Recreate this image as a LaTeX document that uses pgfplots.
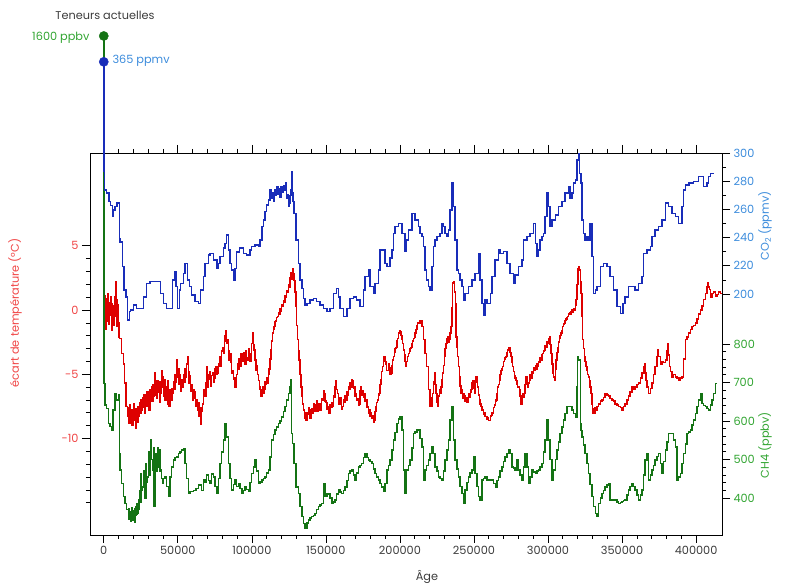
\documentclass[border=0pt]{standalone}
\usepackage{fontspec}
\setmainfont{Poppins}
\usepackage{pgfplots}
\pgfplotsset{compat=1.18}
\definecolor{tline}{RGB}{222,0,0}
\definecolor{tlabel}{RGB}{240,70,70}
\definecolor{cline}{RGB}{25,45,185}
\definecolor{clabel}{RGB}{60,140,220}
\definecolor{mline}{RGB}{20,115,20}
\definecolor{mlabel}{RGB}{50,165,50}
\definecolor{txtgray}{RGB}{60,60,60}
\begin{document}
\begin{tikzpicture}[x=1pt,y=1pt]
\useasboundingbox (-90,-51) rectangle (700,535);
\pgfplotsset{every axis/.append style={width=632pt,height=382pt,scale only axis,
  at={(0,0)},anchor=south west,xmin=-9.3,xmax=417.5,
  tick align=outside,major tick length=8pt,minor tick length=4pt,
  axis line style={line width=0.9pt,black},
  every tick/.style={black,line width=0.7pt},
  tick label style={font=\fontsize{11.3}{13}\selectfont}}}
% temperature
\begin{axis}[ymin=-17.51,ymax=12.22,
  xtick={0,50,100,150,200,250,300,350,400},
  xticklabels={0,50000,100000,150000,200000,250000,300000,350000,400000},
  minor x tick num=4, xtick pos=both, ytick pos=left,
  ytick={-10,-5,0,5}, yticklabels={-10,-5,0,5},
  minor ytick={-15,-14,-13,-12,-11,-9,-8,-7,-6,-4,-3,-2,-1,1,2,3,4},
  yticklabel style={color=tlabel}, xticklabel style={color=txtgray}]
\addplot[const plot mark right,color=tline,line width=1.5pt] coordinates {
(0,0.3)(0.4,-1.2)(0.8,1.1)(1.2,-0.6)(1.6,0.9)(2.0,-1.5)(2.4,0.4)(2.8,1.3)(3.2,-0.9)(3.6,0.6)(4.0,-1.1)(4.4,0.2)(4.8,1.0)(5.2,-0.4)(5.6,-1.6)(6.0,0.5)(6.4,-0.8)(6.8,0.3)(7.2,-1.2)(7.6,0.1)(8.0,1.0)(8.3,2.2)(8.6,-0.5)(9.0,0.8)(9.4,-1.3)(9.8,0.4)(10.2,-1.0)(10.6,-2.1)(12.1,-2.2)(13.2,-3.4)(13.9,-4.2)(15.0,-5.7)(15.9,-7.5)(16.6,-8.3)
(17.2,-7.6)(17.7,-8.8)(18.2,-7.4)(18.7,-8.5)(19.2,-7.8)(19.7,-9.0)(20.2,-8.1)(20.7,-7.3)(21.2,-8.6)(21.7,-7.7)(22.2,-9.2)(22.7,-8.0)(23.2,-8.7)(23.7,-7.5)(24.2,-8.3)(24.7,-7.2)(25.2,-8.0)(25.7,-7.0)(26.2,-7.8)(26.7,-6.8)
(27.2,-7.6)(27.7,-6.6)(28.2,-8.0)(28.7,-6.9)(29.2,-7.5)(29.7,-6.4)(30.2,-7.3)(30.7,-6.7)(31.2,-7.8)(31.7,-6.2)(32.2,-7.0)(32.7,-6.0)(33.2,-7.1)(33.7,-5.8)(34.2,-6.7)(34.6,-4.9)(35.0,-6.6)(35.5,-5.6)
(36.0,-6.9)(36.5,-5.5)(37.0,-6.4)(37.5,-5.8)(38.0,-7.2)(38.5,-5.6)(39.0,-6.5)(39.5,-4.7)(40.0,-6.0)(40.5,-5.2)(41.0,-6.7)(41.5,-5.4)(42.0,-7.0)(42.5,-6.0)(43.0,-6.8)(43.5,-5.5)(44.0,-7.3)(44.7,-7.5)(45.5,-6.2)(46.0,-7.0)(46.5,-6.1)(47.0,-6.5)(47.5,-5.6)(48.0,-6.2)(48.5,-5.0)(49.0,-5.6)(49.7,-3.9)(50.2,-5.2)(50.7,-4.6)(51.2,-5.8)(51.7,-5.0)(52.5,-6.3)(53.1,-5.4)(53.7,-6.0)(54.3,-5.0)(55.0,-5.6)(55.5,-4.6)(56.0,-5.2)(56.5,-4.2)(57.1,-3.6)(57.6,-4.8)(58.2,-5.7)(58.7,-5.1)(59.3,-6.3)(59.9,-5.8)(60.5,-7.0)(61.0,-6.2)(61.5,-6.9)(62.1,-6.4)(62.7,-7.5)(63.2,-7.0)(63.8,-7.8)(64.4,-7.2)(65.0,-8.3)(65.5,-7.6)(66.1,-8.9)(66.7,-7.9)(67.3,-7.3)(67.8,-6.6)(68.4,-6.2)(68.9,-6.7)(69.5,-5.7)(70.0,-4.4)(70.4,-5.5)(70.8,-6.0)(71.2,-5.0)(71.7,-5.4)(72.2,-4.8)(72.8,-5.9)(73.4,-5.1)(74.0,-4.9)(74.6,-5.6)(75.2,-5.3)(75.7,-4.6)(76.3,-4.4)(76.9,-5.0)(77.4,-4.9)(78.0,-4.2)(78.5,-3.6)(79.0,-4.4)(79.6,-3.9)(80.2,-3.2)(80.8,-2.9)(81.4,-3.4)(82.0,-2.4)(82.5,-2.0)(83.0,-1.6)(83.5,-2.6)(84.1,-2.3)(84.7,-3.2)(85.3,-3.9)(85.8,-3.4)(86.4,-4.1)(86.9,-4.9)(87.5,-4.7)(88.0,-5.4)(88.6,-5.3)(89.2,-6.0)(89.8,-6.0)(90.3,-5.0)(90.9,-4.2)(91.4,-4.6)(92.0,-3.8)(92.6,-4.4)(93.2,-3.4)(93.7,-3.9)(94.3,-4.0)(94.9,-3.3)(95.4,-3.6)(96.0,-4.2)(96.5,-3.2)(97.1,-3.7)(97.7,-3.9)(98.2,-3.0)(98.8,-3.4)(99.4,-4.0)(99.9,-3.4)(100.5,-2.6)(101.0,-1.8)(101.6,-2.7)(102.2,-3.1)(102.7,-3.9)(103.3,-4.7)(103.8,-4.3)(104.4,-5.0)(105.0,-5.5)(105.5,-6.0)(106.1,-6.2)(106.7,-6.7)(107.2,-6.3)(107.8,-6.0)(108.3,-6.5)(108.9,-6.2)(109.5,-5.6)(110.0,-5.8)(110.6,-5.3)(111.2,-5.7)(111.7,-5.0)(112.3,-4.6)(112.9,-3.8)(113.4,-3.1)(114.0,-2.4)(114.5,-1.8)(115.1,-1.5)(115.6,-1.3)(116.2,-0.9)(116.8,-0.8)(117.3,-0.6)(117.9,-0.5)(118.5,-0.2)(119.0,-0.3)(119.6,0.1)(120.1,-0.1)(120.7,0.4)(121.3,0.3)(121.8,0.7)(122.4,0.6)(123.0,1.1)(123.5,1.0)(124.1,1.5)(124.7,1.4)(125.2,2.0)(125.8,1.8)(126.4,2.5)(126.9,2.9)(127.5,2.4)(128.1,3.2)(128.6,2.8)(129.2,2.3)(129.7,1.4)(130.3,0.3)(130.9,-1.2)(131.4,-2.3)(132.0,-3.2)(132.6,-3.9)(133.1,-5.0)(133.7,-6.0)(134.3,-6.7)(134.8,-7.3)(135.4,-7.8)(135.9,-8.0)(136.5,-8.4)(137.1,-8.6)(137.6,-8.0)(138.2,-8.1)(138.8,-7.6)(139.3,-7.8)(139.9,-8.4)(140.4,-8.3)(141.0,-7.7)(141.6,-8.0)(142.1,-7.3)(142.7,-7.4)(143.2,-7.9)(143.8,-7.5)(144.4,-7.1)(145.0,-7.9)(145.5,-7.3)(146.1,-7.3)(146.6,-7.8)(147.2,-7.6)(147.8,-6.9)(148.3,-7.0)(148.9,-6.3)(149.5,-6.5)(150.0,-7.1)(150.6,-7.2)(151.1,-7.7)(151.7,-7.5)(152.3,-8.0)(152.8,-8.0)(153.4,-7.4)(154.0,-7.6)(154.5,-7.2)(155.1,-7.5)(155.6,-6.7)(156.2,-6.8)(156.8,-6.0)(157.3,-5.5)(157.9,-6.2)(158.5,-6.5)(159.0,-7.0)(159.6,-7.3)(160.1,-6.8)(160.7,-7.0)(161.3,-7.7)(161.8,-7.5)(162.4,-7.0)(163.0,-7.2)(163.5,-6.7)(164.1,-7.0)(164.6,-6.4)(165.2,-6.6)(165.8,-6.0)(166.3,-6.2)(166.9,-5.7)(167.5,-6.0)(168.0,-5.4)(168.6,-5.5)(169.1,-6.1)(169.7,-6.0)(170.3,-6.7)(170.8,-6.5)(171.4,-7.0)(172.0,-6.9)(172.5,-7.4)(173.1,-7.3)(173.6,-6.3)(174.2,-6.0)(174.8,-6.6)(175.3,-6.3)(175.9,-6.8)(176.5,-6.5)(177.0,-7.1)(177.6,-7.0)(178.2,-7.6)(178.7,-7.5)(179.3,-8.0)(179.8,-7.8)(180.4,-8.3)(180.9,-8.0)(181.5,-8.4)(182.0,-8.2)(182.6,-8.7)(183.2,-8.6)(183.7,-7.9)(184.3,-7.5)(184.9,-7.2)(185.4,-7.0)(186.0,-6.6)(186.6,-6.5)(187.1,-5.8)(187.7,-5.4)(188.2,-4.8)(188.8,-4.4)(189.4,-3.9)(189.9,-3.6)(190.5,-4.0)(191.0,-4.2)(191.6,-4.7)(192.2,-4.7)(192.7,-4.2)(193.3,-4.5)(193.9,-5.0)(194.5,-4.9)(195.0,-4.3)(195.6,-3.9)(196.2,-3.6)(196.7,-3.3)(197.3,-3.0)(197.9,-2.9)(198.4,-2.4)(199.0,-2.2)(199.6,-1.8)(200.1,-1.6)(200.7,-1.7)(201.3,-2.0)(201.8,-2.3)(202.4,-2.6)(203.0,-3.1)(203.5,-3.5)(204.1,-4.0)(204.6,-4.4)(205.2,-4.0)(205.8,-3.6)(206.3,-3.4)(206.9,-3.2)(207.5,-3.0)(208.0,-2.9)(208.6,-2.6)(209.1,-2.4)(209.7,-2.2)(210.3,-2.1)(210.8,-1.8)(211.4,-1.5)(212.0,-1.2)(212.5,-1.0)
(213.6,-1.0)(214.8,-0.8)(215.9,-1.3)(217.0,-2.3)(218.1,-3.4)(219.3,-4.4)(220.4,-6.2)(221.5,-7.5)(222.1,-6.8)(222.7,-6.5)(223.2,-5.6)(223.8,-4.9)(224.4,-5.8)(224.9,-6.5)(225.5,-7.2)(226.0,-7.5)(226.6,-6.7)(227.2,-6.2)(227.7,-6.5)(228.3,-6.0)(228.8,-5.4)(229.4,-4.9)(230.0,-4.3)(230.5,-3.6)(231.1,-3.0)(231.7,-2.6)(232.2,-2.2)(232.8,-2.1)(233.3,-2.5)(233.9,-2.3)(234.5,-1.8)(235.0,-1.3)(235.6,0.2)(236.2,2.1)(236.9,2.2)(237.4,1.4)(237.8,0.5)(238.4,-2.1)(239.0,-2.9)(239.5,-3.6)(240.1,-4.4)(240.7,-5.2)(241.2,-5.9)(241.8,-6.5)(242.4,-6.2)(243.0,-6.9)(243.5,-6.5)(244.1,-6.7)(244.7,-7.1)(245.2,-6.8)(245.8,-7.2)(246.3,-7.0)(246.9,-6.5)(247.5,-6.8)(248.0,-6.4)(248.6,-6.2)(249.2,-5.7)(249.7,-5.5)(250.3,-6.1)(250.8,-6.5)(251.4,-5.5)(251.9,-5.2)(252.5,-5.6)(253.1,-6.0)(253.6,-6.6)(254.2,-7.0)(254.8,-7.3)(255.3,-7.5)(255.9,-7.8)(256.4,-7.8)(257.0,-8.1)(257.6,-8.0)(258.1,-8.3)(258.7,-8.3)(259.2,-8.5)(259.8,-8.4)(260.4,-8.6)(261.0,-8.6)(261.5,-8.3)(262.1,-8.2)(262.7,-8.0)(263.2,-8.0)(263.8,-7.6)(264.4,-7.4)(264.9,-7.1)(265.5,-7.0)(266.0,-6.5)(266.6,-6.0)(267.2,-5.8)(267.7,-5.5)(268.3,-5.0)(268.8,-4.7)(269.4,-4.6)(269.9,-4.4)(270.5,-4.0)(271.1,-3.8)(271.6,-3.7)(272.2,-3.6)(272.8,-3.3)(273.3,-3.1)(273.9,-2.9)(274.4,-2.9)(275.0,-3.3)(275.6,-3.6)(276.1,-4.1)(276.7,-4.4)(277.3,-4.8)(277.8,-5.1)(278.4,-5.3)(279.0,-5.5)(279.5,-5.8)(280.1,-6.0)(280.6,-6.0)(281.2,-6.2)(281.8,-6.7)(282.3,-7.3)(282.9,-7.0)(283.5,-6.5)(284.0,-6.8)(284.6,-6.5)(285.1,-5.8)(285.7,-5.2)(286.3,-5.6)(286.9,-6.0)(287.4,-5.7)(288.0,-5.5)(288.6,-5.0)(289.1,-5.3)(289.7,-4.8)(290.2,-4.9)(290.8,-4.5)(291.4,-4.7)(292.0,-4.3)(292.5,-4.6)(293.1,-4.2)(293.6,-4.4)(294.2,-4.0)(294.7,-4.1)(295.3,-3.7)(295.9,-3.9)(296.4,-3.5)(297.0,-3.4)(297.5,-3.2)(298.1,-3.1)(298.7,-2.8)(299.2,-2.9)(299.8,-2.5)(300.4,-2.6)(300.9,-2.2)(301.5,-2.1)(302.0,-2.7)(302.6,-3.4)(303.2,-4.2)(303.8,-4.9)(304.3,-5.2)(304.9,-5.5)(305.4,-4.6)(306.0,-3.9)(306.6,-3.3)(307.1,-2.9)(307.7,-2.5)(308.2,-2.2)(308.8,-2.0)(309.4,-1.8)(309.9,-1.6)(310.5,-1.3)(311.1,-1.1)(311.6,-1.0)(312.2,-0.8)(312.8,-0.7)(313.3,-0.6)(313.9,-0.5)(314.5,-0.3)(315.0,-0.2)(315.6,-0.3)(316.1,-0.1)(316.7,0.0)(317.3,-0.2)(317.8,0.1)(318.4,0.0)(319.0,0.4)(319.5,0.8)(320.1,2.0)(320.6,3.2)(321.2,3.4)(321.8,3.1)(322.3,2.2)(322.9,1.3)(323.4,-0.5)(324.0,-2.3)(324.6,-3.0)(325.1,-3.6)(325.7,-4.0)(326.3,-4.4)(326.8,-4.7)(327.4,-5.0)(327.9,-5.2)(328.5,-5.5)(329.1,-6.0)(329.6,-6.5)(330.2,-7.3)(330.8,-8.0)(331.3,-7.7)(331.9,-8.0)(332.4,-7.6)(333.0,-7.8)(334.1,-7.5)(335.3,-7.3)(336.4,-7.1)(337.5,-7.0)(338.6,-6.8)(339.8,-6.5)(340.9,-6.6)(342.0,-6.7)(343.1,-6.9)(344.3,-7.0)(345.4,-7.1)(346.5,-7.3)(347.7,-7.4)(348.8,-7.5)(349.9,-7.6)(351.0,-7.8)(352.1,-7.5)(353.3,-7.3)(354.4,-7.0)(355.5,-6.7)(356.6,-6.4)(357.7,-6.0)(358.9,-6.2)(360.0,-6.0)(361.1,-5.8)(362.3,-5.7)(363.4,-5.3)(364.5,-4.9)(365.0,-4.4)(365.6,-4.2)(366.2,-4.9)(366.8,-5.5)(367.9,-6.0)(369.1,-6.5)(370.2,-6.1)(371.3,-5.7)(372.4,-5.0)(373.6,-4.4)(374.2,-3.6)(374.7,-3.1)(375.8,-3.6)(376.9,-4.2)(378.0,-4.0)(379.2,-4.1)(380.4,-3.9)(381.0,-3.2)(381.5,-2.6)(382.1,-3.5)(382.6,-4.4)(383.8,-4.8)(384.9,-5.2)(386.0,-5.0)(387.1,-5.2)(388.3,-5.3)(389.4,-5.5)(390.5,-5.3)(391.6,-5.2)(392.7,-3.8)(393.9,-2.3)(395.0,-2.1)(396.1,-1.8)(397.3,-1.5)(398.4,-1.3)(399.5,-1.2)(400.6,-1.0)(401.7,-0.7)(402.9,-0.3)(404.0,0.0)(405.1,0.3)(406.2,0.8)(407.4,1.3)(408.0,1.8)(408.5,2.1)(409.1,1.8)(409.6,1.6)(410.2,1.2)(410.8,1.0)(411.9,1.3)(413.0,1.4)(414.1,1.1)(415.3,1.2)(416.4,1.4)(417.2,1.3)
};
\end{axis}
% CH4
\begin{axis}[ymin=303.9,ymax=1296.1,clip=false,
  axis x line=none, axis y line*=right,
  ytick={400,500,600,700,800}, yticklabels={400,500,600,700,800},
  minor ytick={420,440,460,480,520,540,560,580,620,640,660,680,720,740,760,780},
  yticklabel style={color=mlabel}]
\addplot[const plot mark right,color=mline,line width=1.5pt] coordinates {
(0,1600)(0.8,697.8)(1.9,641.6)(3.1,632.9)(4.2,593.9)(5.3,585.3)(6.4,576.6)(7.6,628.6)(8.7,671.9)(9.8,654.5)(10.5,667.5)(10.9,516)(12.1,472.7)(13.2,438)(14.3,403.5)(15.5,386.1)(16.6,370)(17.0,345)(17.4,372)(17.8,350)(18.2,365)(18.6,340)(19.0,375)(19.4,352)(19.8,368)(20.2,342)(20.6,360)(21.0,338)(21.4,372)(21.8,355)(22.2,378)(22.6,358)(23.0,385)(23.4,360)(23.8,395)(24.2,370)(24.6,420)(25.0,390)(25.6,464)(26.1,420)(26.7,429)(27.2,470)(27.8,447)(28.4,400)(29.0,490)(29.5,440)(30.1,455)(30.6,520)(31.2,507)(31.7,460)(32.3,551)(32.9,500)(33.5,473)(34.0,530)(34.6,378)(35.1,450)(35.7,516)(36.3,470)(36.8,530)(37.4,480)(38.0,525)(38.5,470)(39.1,473)(39.6,450)(40.2,438)(41.3,450)(42.5,455)(43.6,430)(44.7,404)(45.9,455)(47.0,480)(48.1,499)(49.2,505)(50.3,507)(51.5,515)(52.6,520)(53.7,525)(54.9,529)(56.0,490)(57.1,450)(58.2,412)(60.5,417)(62.2,420)(63.9,425)(66.1,434)(67.2,420)(68.4,447)(69.5,440)(70.6,460)(71.7,445)(72.9,438)(74.0,462)(75.1,455)(76.3,430)(77.4,412)(78.5,450)(79.6,490)(80.8,520)(81.9,551)(83.0,594)(84.1,559)(85.3,490)(86.4,450)(87.5,421)(88.6,435)(89.8,447)(90.9,430)(92.0,438)(93.2,425)(94.3,412)(95.4,420)(96.5,430)(97.7,422)(98.8,417)(99.9,440)(101.0,464)(102.2,480)(103.3,499)(104.4,470)(105.5,438)(106.7,442)(107.8,447)(108.9,450)(110.0,455)(111.2,465)(112.3,473)(113.4,507)(114.5,551)(115.6,565)(116.8,577)(117.9,585)(119.0,594)(120.1,600)(121.3,611)(122.4,625)(123.5,637)(124.7,655)(125.8,672)(126.4,690)(126.9,707)(127.6,568)(128.5,542)(129.9,490)(131.4,429)(132.6,412)(133.7,378)(134.8,352)(135.9,334)(137.1,321)(138.2,335)(139.3,343)(140.4,348)(141.6,352)(142.7,355)(143.8,360)(145.0,370)(146.1,378)(147.2,382)(148.3,386)(149.5,438)(150.6,404)(151.7,410)(152.8,412)(154.0,400)(155.1,386)(156.2,390)(157.3,395)(158.5,410)(159.6,421)(160.7,415)(161.8,412)(163.0,420)(164.1,429)(165.2,445)(166.3,464)(167.5,470)(168.6,473)(169.7,460)(170.8,447)(172.0,465)(173.1,481)(174.2,485)(175.3,490)(176.5,505)(177.7,516)(178.8,505)(179.9,499)(181.0,495)(182.1,490)(183.2,475)(184.3,464)(185.5,455)(186.6,447)(187.7,438)(188.8,429)(190.0,417)(191.1,438)(192.2,473)(193.3,485)(194.5,499)(195.6,525)(196.7,551)(197.9,570)(199.0,594)(200.1,605)(201.3,611)(202.4,577)(203.5,473)(204.6,412)(205.8,473)(206.9,485)(208.0,499)(209.1,530)(210.3,568)(211.4,572)(212.5,577)(213.6,577)(214.8,555)(215.9,533)(217.0,447)(218.1,473)(219.3,485)(220.4,499)(221.5,515)(222.7,533)(223.8,516)(224.9,481)(226.0,470)(227.2,455)(228.3,450)(229.4,447)(230.5,470)(231.7,499)(232.8,525)(233.9,551)(235.0,603)(236.2,637)(237.3,551)(238.4,499)(239.5,475)(240.7,455)(241.8,430)(242.9,412)(244.1,386)(245.2,421)(246.3,440)(247.4,455)(248.6,465)(249.7,473)(250.8,507)(251.9,464)(253.1,430)(254.2,404)(255.3,395)(256.4,447)(257.6,450)(258.7,455)(261.0,447)(263.2,447)(264.4,438)(265.5,429)(266.6,445)(267.7,455)(268.8,470)(269.9,481)(271.1,495)(272.2,507)(273.3,515)(274.4,525)(275.6,516)(276.7,481)(277.8,478)(279.0,473)(280.1,499)(281.2,473)(282.3,460)(283.4,447)(284.6,480)(285.7,516)(286.9,481)(288.0,438)(289.1,455)(290.2,473)(291.4,468)(292.5,464)(293.6,470)(294.7,473)(295.9,480)(297.0,490)(298.1,520)(299.2,551)(300.4,603)(301.5,551)(302.6,500)(303.8,447)(304.9,473)(306.0,500)(307.1,525)(308.2,545)(309.4,568)(310.5,585)(311.6,603)(312.8,620)(313.9,637)(315.0,637)(316.1,637)(317.2,628)(318.4,620)(319.5,611)(320.0,690)(320.6,767)(321.8,758)(322.2,594)(323.1,575)(324.0,559)(325.1,538)(326.3,516)(327.4,490)(328.5,464)(329.6,435)(330.8,404)(331.9,378)(333.0,360)(334.2,352)(335.3,386)(336.4,400)(337.5,412)(338.6,420)(339.8,429)(340.9,434)(342.0,438)(343.1,395)(344.3,395)(346.5,395)(347.7,390)(348.8,386)(350.0,388)(351.0,391)(352.1,393)(353.3,395)(354.4,408)(355.5,421)(356.6,430)(357.7,438)(358.9,430)(360.0,421)(361.1,408)(362.3,395)(363.4,408)(364.5,421)(365.6,460)(366.8,499)(367.9,516)(369.1,447)(370.2,460)(371.3,473)(372.4,485)(373.6,499)(374.7,508)(375.8,516)(376.9,490)(378.1,464)(379.2,495)(380.4,525)(381.5,546)(382.6,568)(383.8,568)(384.9,568)(386.0,550)(387.1,533)(388.2,447)(389.4,455)(390.5,464)(391.6,490)(392.7,516)(393.9,540)(395.0,568)(396.1,572)(397.2,577)(398.4,590)(399.5,603)(400.6,620)(401.7,637)(402.9,655)(404.0,672)(405.1,646)(406.2,640)(407.4,637)(408.5,632)(409.6,629)(410.8,642)(411.9,655)(413.0,672)(414.1,698)
};
\addplot[only marks,mark=*,mark size=4.6pt,color=mline] coordinates {(0,1600)};
\end{axis}
% CO2
\begin{axis}[ymin=28.7,ymax=300.2,clip=false,
  axis x line=none, axis y line*=right,
  ytick={200,220,240,260,280,300}, yticklabels={200,220,240,260,280,300},
  minor ytick={210,230,250,270,290},
  yticklabel style={color=clabel}]
\addplot[const plot mark right,color=cline,line width=1.5pt] coordinates {
(0,365)(0.6,287)(1.9,274)(3.5,271.6)(4.6,265.6)(6.0,263)(6.4,255)(7.6,259.7)(9.1,262)(10.5,264.5)(10.9,239.6)(12.5,237)(13.6,219.4)(15.0,202.8)(15.9,198)(17.3,181.5)(18.2,187.4)(20.0,188.6)(22.2,192.2)(24.5,189.8)(26.7,189.8)(29.0,198)(31.2,207.6)(33.5,208.8)(38.4,208.8)(40.2,200.5)(42.5,193.4)(44.7,189.8)(46.5,189.8)(48.1,210)(48.8,215.9)(49.7,205.2)(51.0,189.8)(51.9,202.8)(53.7,207.6)(54.9,214.7)(56.4,221.8)(57.8,210)(59.4,205.2)(61.6,199.3)(63.9,194.5)(65.4,193.4)(67.3,202.8)(68.4,212.3)(70.6,221.8)(71.7,227.7)(74.0,228.9)(76.3,224.2)(77.4,218.2)(78.5,221.8)(80.8,226.5)(81.9,232.5)(83.0,236)(84.1,242)(85.3,231.3)(86.4,221.8)(87.5,217)(88.6,210)(89.8,218.2)(91.6,230)(94.3,232.5)(96.5,228.9)(98.8,227.7)(99.9,231.3)(102.2,233.6)(104.4,234.8)(105.5,233.6)(106.7,238.4)(107.8,247.9)(108.9,252.6)(110.0,258.5)(111.2,263.3)(112.3,266.8)(113.4,273.9)(114.0,268)(114.5,271.6)(115.2,266)(116.0,274)(116.8,270)(117.5,276)(118.3,271)(119.0,275.1)(119.8,269)(120.5,276)(121.3,272)(122.0,277)(122.8,274)(123.5,278.7)(124.1,268)(124.7,270.4)(125.3,262)(125.8,264.5)(126.4,270)(126.9,273.9)(127.4,287)(127.9,272)(128.5,265.6)(129.9,257.3)(131.4,238.4)(132.6,221.8)(133.7,210)(134.8,204)(135.9,196.9)(137.1,192.2)(139.3,193.4)(141.6,195.7)(143.8,196.9)(146.1,194.5)(148.3,192.2)(150.6,189.8)(152.8,187.4)(155.1,189.8)(157.3,200.5)(158.5,204)(159.6,198)(161.8,189.8)(164.1,183.9)(166.3,189.8)(168.6,196.9)(170.8,198)(173.1,195.7)(175.3,191)(176.5,202.8)(178.7,212.3)(179.9,217)(182.1,205.2)(183.2,200.5)(185.5,207.6)(186.6,217)(187.7,231.3)(190.0,231.3)(191.1,221.8)(193.4,219.4)(194.5,225.4)(195.6,231.3)(196.7,243.1)(199.0,247.9)(201.3,250.2)(203.5,243.1)(204.6,230.1)(205.8,238.4)(208.0,245.5)(210.3,257.3)(212.5,252.6)(213.6,247.9)(214.8,243.1)(215.9,240.8)(217.0,233.6)(218.1,217)(219.3,210)(220.4,205.2)(221.5,202.8)(222.7,219.4)(223.8,233.6)(224.9,238.4)(227.1,240.8)(228.3,243.1)(229.4,250.2)(230.5,247.9)(231.7,243.1)(232.8,240.8)(233.9,245.5)(235.0,259.7)(236.2,278.7)(237.3,262.1)(238.4,238.4)(239.5,217)(240.7,214.7)(241.8,210)(242.9,205.2)(244.1,195.7)(246.3,200.5)(248.6,205.2)(250.8,210)(253.1,214.7)(254.2,228.9)(255.3,210)(256.4,193.4)(257.6,185.1)(258.7,195.7)(261.0,193.4)(262.1,200.5)(264.3,212.3)(266.6,224.2)(267.7,231.3)(269.9,228.9)(272.2,230.1)(274.4,221.8)(276.7,214.7)(277.8,207.6)(280.1,213.5)(282.3,219.4)(283.4,224.2)(285.7,238.4)(288.0,240.8)(290.2,243.1)(291.4,250.2)(292.5,236)(293.6,226.5)(294.7,231.3)(295.9,238.4)(297.0,240.8)(298.1,243.1)(299.2,255)(300.4,271.6)(301.5,262.1)(302.6,247.9)(304.9,252.6)(307.1,256.2)(309.4,262.1)(311.6,265.6)(313.9,271.6)(315.0,276.3)(316.1,268)(317.2,271.6)(318.4,278.7)(319.5,281)(320.6,295.3)(321.3,300)(322.2,285.8)(322.9,278.7)(324.0,252.6)(325.1,243.1)(326.3,238.4)(327.4,240.8)(328.5,238.4)(329.6,250.2)(330.8,226.5)(331.9,200.5)(333.0,202.8)(335.3,205.2)(336.4,219.4)(337.5,219.4)(339.8,221.8)(342.0,219.4)(344.3,212.3)(346.5,202.8)(348.8,191)(350.6,186.3)(352.1,193.4)(354.4,198)(356.6,205.2)(358.9,205.2)(361.2,202.8)(363.4,207.6)(364.5,212.3)(366.8,228.9)(369.1,231.3)(370.2,233.6)(372.4,240.8)(374.7,245.5)(377.0,247.9)(379.2,252.6)(381.5,264.5)(383.7,262.1)(386.0,257.3)(388.2,255)(390.5,250.2)(391.6,262.1)(392.7,273.9)(395.1,277.5)(398.3,278.7)(401.7,279.9)(405.1,283.4)(407.4,276.3)(408.5,278.7)(409.6,283.4)(411.9,285.8)
};
\addplot[only marks,mark=*,mark size=4.6pt,color=cline] coordinates {(0,365)};
\end{axis}
\node[text=txtgray,font=\fontsize{11.3}{13}\selectfont] at (15,520) {Teneurs actuelles};
\node[text=mlabel,anchor=east,font=\fontsize{11.3}{13}\selectfont] at (3,497) {1600 ppbv};
\node[text=clabel,anchor=west,font=\fontsize{11.3}{13}\selectfont] at (19,474) {365 ppmv};
\node[text=tlabel,rotate=90,font=\fontsize{11.3}{13}\selectfont] at (-75,222) {écart de température (°C)};
\node[text=clabel,rotate=90,font=\fontsize{11.3}{13}\selectfont] at (675,309) {CO\textsubscript{2} (ppmv)};
\node[text=mlabel,rotate=90,font=\fontsize{11.3}{13}\selectfont] at (675,90) {CH4 (ppbv)};
\node[text=txtgray,font=\fontsize{11.3}{13}\selectfont] at (337,-42) {Âge};
\end{tikzpicture}
\end{document}
